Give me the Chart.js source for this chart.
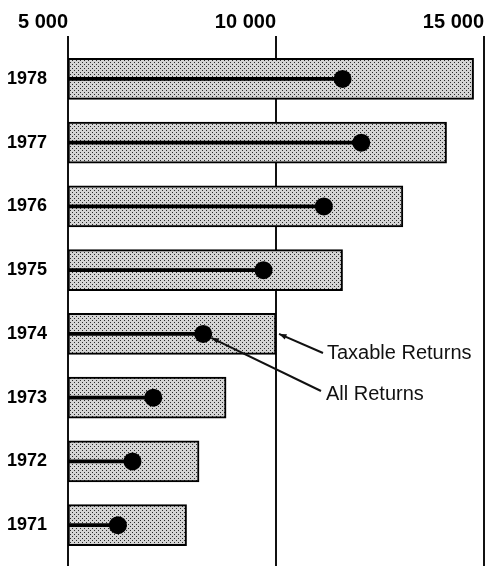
<!DOCTYPE html>
<html>
<head>
<meta charset="utf-8">
<script src="https://cdn.jsdelivr.net/npm/chart.js@4"></script>
<style>
  html, body { margin: 0; padding: 0; background: #fff; }
  #wrap { width: 496px; height: 566px; position: relative; }
</style>
</head>
<body>
<div id="wrap"><canvas id="chart"></canvas></div>
<script>
// Data
const years = ["1978", "1977", "1976", "1975", "1974", "1973", "1972", "1971"];
const taxableReturns = [14750, 14100, 13050, 11600, 10000, 8800, 8150, 7850];
const allReturns = [11600, 12050, 11150, 9700, 8250, 7050, 6550, 6200];
const xTicks = [5000, 10000, 15000];
const xTickLabels = ["5 000", "10 000", "15 000"];
const baseValue = 5000;

// Stipple fill for the bars
function makeStipple() {
  const c = document.createElement("canvas");
  c.width = 4;
  c.height = 4;
  const g = c.getContext("2d");
  g.fillStyle = "#d4d4d4";
  g.fillRect(0, 0, 4, 4);
  g.fillStyle = "#2a2a2a";
  g.fillRect(0, 0, 1, 1);
  g.fillRect(2, 2, 1, 1);
  return g.createPattern(c, "repeat");
}

function arrow(ctx, x1, y1, x2, y2) {
  ctx.beginPath();
  ctx.moveTo(x1, y1);
  ctx.lineTo(x2, y2);
  ctx.stroke();
  const a = Math.atan2(y2 - y1, x2 - x1);
  const len = 8;
  ctx.beginPath();
  ctx.moveTo(x2, y2);
  ctx.lineTo(x2 - len * Math.cos(a - 0.35), y2 - len * Math.sin(a - 0.35));
  ctx.lineTo(x2 - len * Math.cos(a + 0.35), y2 - len * Math.sin(a + 0.35));
  ctx.closePath();
  ctx.fill();
}

// Extend the value lines to the bottom edge and add the callouts
const extras = {
  id: "extras",
  beforeDatasetsDraw(chart) {
    const ctx = chart.ctx;
    const xs = chart.scales.x;
    ctx.save();
    ctx.strokeStyle = "#111";
    ctx.lineWidth = 2;
    xTicks.forEach((t) => {
      const x = xs.getPixelForValue(t);
      ctx.beginPath();
      ctx.moveTo(x, chart.chartArea.bottom - 1);
      ctx.lineTo(x, chart.height);
      ctx.stroke();
    });
    ctx.restore();
  },
  afterDraw(chart) {
    const ctx = chart.ctx;
    const xs = chart.scales.x;
    const ys = chart.scales.y;
    const i = years.indexOf("1974");
    const yc = ys.getPixelForValue(i);
    ctx.save();
    ctx.strokeStyle = "#111";
    ctx.fillStyle = "#111";
    ctx.lineWidth = 2;
    // Taxable Returns
    arrow(ctx, 323, 353, xs.getPixelForValue(taxableReturns[i]) + 3, yc);
    // All Returns
    const dx = xs.getPixelForValue(allReturns[i]);
    const ang = Math.atan2(391 - yc, 321 - dx);
    arrow(ctx, 321, 391, dx + 9 * Math.cos(ang), yc + 9 * Math.sin(ang));
    ctx.font = "20px 'Liberation Sans', sans-serif";
    ctx.textBaseline = "alphabetic";
    ctx.fillText("Taxable Returns", 327, 359);
    ctx.fillText("All Returns", 326, 400);
    ctx.restore();
  }
};

const ctx = document.getElementById("chart").getContext("2d");

new Chart(ctx, {
  type: "bar",
  data: {
    labels: years,
    datasets: [
      {
        type: "line",
        label: "All Returns",
        data: allReturns,
        showLine: false,
        pointRadius: 9,
        pointHoverRadius: 9,
        pointBackgroundColor: "#000",
        pointBorderWidth: 0,
        order: 0,
      },
      {
        label: "All Returns stem",
        data: allReturns.map((v) => [baseValue, v]),
        backgroundColor: "#000",
        borderWidth: 0,
        barThickness: 3,
        grouped: false,
        order: 1,
      },
      {
        label: "Taxable Returns",
        data: taxableReturns.map((v) => [baseValue, v]),
        backgroundColor: makeStipple(),
        borderColor: "#000",
        borderWidth: 2,
        borderSkipped: false,
        barThickness: 41,
        grouped: false,
        order: 2,
      },
    ],
  },
  options: {
    indexAxis: "y",
    responsive: true,
    maintainAspectRatio: false,
    animation: false,
    layout: { padding: { top: 8, right: 12, bottom: 7, left: 0 } },
    plugins: {
      legend: { display: false },
      tooltip: { enabled: false },
    },
    scales: {
      x: {
        position: "top",
        min: 5000,
        max: 15000,
        afterBuildTicks(scale) {
          scale.ticks = xTicks.map((v) => ({ value: v }));
        },
        afterFit(scale) {
          scale.paddingLeft = 0;
          scale.paddingRight = 0;
        },
        ticks: {
          align: "end",
          padding: 2,
          color: "#000",
          font: { family: "'Liberation Sans', sans-serif", size: 20, weight: "bold" },
          callback: (v) => xTickLabels[xTicks.indexOf(v)],
        },
        grid: {
          color: "#111",
          lineWidth: 2,
          tickLength: 11,
        },
        border: { display: false },
      },
      y: {
        afterFit(scale) {
          scale.width = 68;
          scale.paddingTop = 0;
          scale.paddingBottom = 0;
        },
        ticks: {
          padding: 13,
          color: "#000",
          font: { family: "'Liberation Sans', sans-serif", size: 18, weight: "bold" },
        },
        grid: { display: false },
        border: { display: false },
      },
    },
  },
  plugins: [extras],
});
</script>
</body>
</html>
